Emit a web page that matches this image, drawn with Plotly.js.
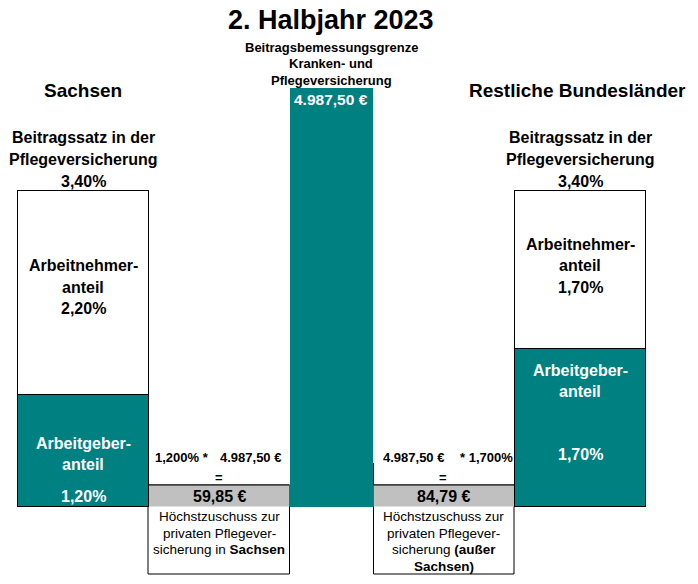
<!DOCTYPE html>
<html><head><meta charset="utf-8">
<script src="https://cdn.plot.ly/plotly-3.0.1.min.js"></script>
<style>html,body{margin:0;padding:0;background:#fff}</style>
</head><body><div id="chart" style="width:698px;height:584px"></div>
<script>
// ---- data ----
const regions = ["Sachsen", "BBG", "Restliche Bundesländer"];
const rateRegions = ["Sachsen", "Restliche Bundesländer"];
const employerRate = [1.20, 1.70];
const employeeRate = [2.20, 1.70];
const totalRate = [3.40, 3.40];
const bbgValue = [4987.50];
const formulaRate = [1.200, 1.700];
const subsidy = [59.85, 84.79];

// ---- helpers ----
const W = 698, H = 584;
const TEAL = "#008080";
const FONT = "Liberation Sans, Arial, sans-serif";
function de(v, d) {
  const parts = v.toFixed(d).split(".");
  parts[0] = parts[0].replace(/\B(?=(\d{3})+(?!\d))/g, ".");
  return parts.join(",");
}
const pct = (v, d) => de(v, d === undefined ? 2 : d) + "%";
const eur = v => de(v, 2) + " €";
function t(x, y, text, size, color, bold) {
  return {xref: "paper", yref: "paper", x: x / W, y: 1 - y / H,
    text: bold === false ? text : "<b>" + text + "</b>", showarrow: false,
    xanchor: "center", yanchor: "middle",
    font: {family: FONT, size: size, color: color || "#000"}};
}
function rect(x0, y0, x1, y1, fill, lw) {
  return {type: "rect", xref: "paper", yref: "paper", x0: x0 / W, x1: x1 / W,
    y0: 1 - y0 / H, y1: 1 - y1 / H, fillcolor: fill || "rgba(0,0,0,0)",
    line: {color: "#000", width: lw === undefined ? 1 : lw}, layer: "below"};
}
function line(x0, y0, x1, y1) {
  return {type: "line", xref: "paper", yref: "paper", x0: x0 / W, x1: x1 / W,
    y0: 1 - y0 / H, y1: 1 - y1 / H, line: {color: "#000", width: 1}};
}
// axis ranges chosen so that base 0 sits at pixel 506.5
const zeroPx = 506.5, ratePx = 316.2, bbgPx = 418.2;
const rUnit = totalRate[0] / ratePx, eUnit = bbgValue[0] / bbgPx;
const yRange = [-(H - zeroPx) * rUnit, zeroPx * rUnit];
const y2Range = [-(H - zeroPx) * eUnit, zeroPx * eUnit];

const traces = [
  {type: "bar", x: rateRegions, y: employerRate, yaxis: "y", width: 0.527,
   marker: {color: TEAL, line: {color: "#000", width: 1}}, hoverinfo: "none"},
  {type: "bar", x: rateRegions, y: employeeRate, yaxis: "y", width: 0.527,
   marker: {color: "#fff", line: {color: "#000", width: 1}}, hoverinfo: "none"},
  {type: "bar", x: [regions[1]], y: bbgValue, yaxis: "y2", width: 0.336,
   marker: {color: TEAL, line: {width: 0}}, hoverinfo: "none"}
];

const SM = 13.5;
const ann = [
  t(331, 20, "2. Halbjahr 2023", 27),
  t(331, 47, "Beitragsbemessungsgrenze", 13),
  t(331, 63, "Kranken- und", 13),
  t(331, 80, "Pflegeversicherung", 13),
  t(331, 99, eur(bbgValue[0]), 15.5, "#fff"),
  t(83, 90, rateRegions[0], 19),
  t(577, 90, rateRegions[1], 19),
  // left column
  t(83, 138, "Beitragssatz in der", 16),
  t(83, 159, "Pflegeversicherung", 16),
  t(83, 181, pct(totalRate[0]), 16),
  t(83, 266, "Arbeitnehmer-", 16),
  t(83, 287, "anteil", 16),
  t(83, 308, pct(employeeRate[0]), 16),
  t(83, 443, "Arbeitgeber-", 16, "#fff"),
  t(83, 464, "anteil", 16, "#fff"),
  t(83, 496, pct(employerRate[0]), 16, "#fff"),
  // right column
  t(580, 138, "Beitragssatz in der", 16),
  t(580, 159, "Pflegeversicherung", 16),
  t(580, 181, pct(totalRate[1]), 16),
  t(580, 244, "Arbeitnehmer-", 16),
  t(580, 265, "anteil", 16),
  t(580, 287, pct(employeeRate[1]), 16),
  t(580, 370, "Arbeitgeber-", 16, "#fff"),
  t(580, 391, "anteil", 16, "#fff"),
  t(580, 454, pct(employerRate[1]), 16, "#fff"),
  // left formula
  t(182, 457, pct(formulaRate[0], 3) + " *", 13),
  t(250, 457, eur(bbgValue[0]), 13),
  t(219, 477, "=", 13),
  t(219, 496, eur(subsidy[0]), 16),
  t(219, 516, "Höchstzuschuss zur", SM, "#000", false),
  t(219, 533, "privaten Pflegever-", SM, "#000", false),
  t(219, 549, "sicherung in <b>Sachsen</b>", SM, "#000", false),
  // right formula
  t(413, 457, eur(bbgValue[0]), 13),
  t(486, 457, "* " + pct(formulaRate[1], 3), 13),
  t(443, 477, "=", 13),
  t(444, 496, eur(subsidy[1]), 16),
  t(444, 516, "Höchstzuschuss zur", SM, "#000", false),
  t(444, 533, "privaten Pflegever-", SM, "#000", false),
  t(444, 549, "sicherung <b>(außer</b>", SM, "#000", false),
  t(444, 566, "<b>Sachsen)</b>", SM, "#000", false)
];

const shapes = [
  rect(148, 485, 289.5, 574, "#fff"),
  rect(148, 485, 289.5, 506.5, "#C0C0C0", 0),
  rect(373.5, 485, 514, 574, "#fff"),
  rect(373.5, 485, 514, 506.5, "#C0C0C0", 0),
  line(148, 485, 289.5, 485),
  line(373.5, 485, 514, 485),
  line(373.5, 463, 373.5, 485)
];

const layout = {
  width: W, height: H, margin: {l: 0, r: 0, t: 0, b: 0},
  paper_bgcolor: "#fff", plot_bgcolor: "rgba(0,0,0,0)",
  barmode: "stack", showlegend: false,
  xaxis: {type: "category", categoryorder: "array", categoryarray: regions,
          range: [-0.333, 2.4747], visible: false, fixedrange: true},
  yaxis: {range: yRange, visible: false, fixedrange: true},
  yaxis2: {range: y2Range, overlaying: "y", visible: false, fixedrange: true},
  annotations: ann, shapes: shapes
};
Plotly.newPlot("chart", traces, layout, {staticPlot: true, displayModeBar: false});
</script></body></html>
